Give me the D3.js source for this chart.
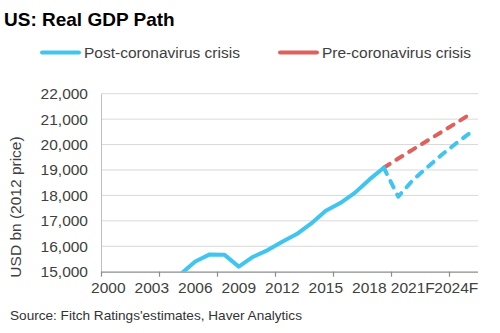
<!DOCTYPE html>
<html lang="en">
	<head>
		<meta charset="utf-8">
		<title>US real GDP path</title>
		<script type="text/javascript" src="https://cdn.jsdelivr.net/npm/d3@7"></script>
		<style>
			body{
				margin:0;
				background-color:white;
			}
			text{
				font-family:"Liberation Sans", Arial, sans-serif;
			}
		</style>
	</head>
	<body>
		<div id="chart"></div>

		<script type="text/javascript">
			// categories (one per year, forecasts marked F)
			var years = ["2000","2001","2002","2003","2004","2005","2006","2007","2008","2009",
				"2010","2011","2012","2013","2014","2015","2016","2017","2018","2019",
				"2020F","2021F","2022F","2023F","2024F","2025F"]

			// USD bn, 2012 prices
			var actual = [13130,13260,13490,13880,14410,14910,15400,15680,15670,15200,
				15590,15850,16180,16480,16900,17400,17700,18100,18620,19090]
			var postCrisis = [19090,17950,18600,19100,19600,20050,20480]   // 2019 .. 2025F
			var preCrisis = [19090,19450,19800,20150,20500,20850,21210]    // 2019 .. 2025F

			var xLabels = ["2000","2003","2006","2009","2012","2015","2018","2021F","2024F"]
			var yTicks = [15000,16000,17000,18000,19000,20000,21000,22000]

			var blue = "#3fc5ef"
			var red = "#e0605c"

			var w = 500
			var h = 333
			var pLeft = 101, pRight = 478, pTop = 93.7, pBottom = 271.7

			var svg = d3.select("#chart").append("svg")
			.attr("width",w)
			.attr("height",h)

			var xScale = d3.scaleBand()
			.domain(years)
			.range([pLeft,pRight])

			var yScale = d3.scaleLinear()
			.domain([15000,22000])
			.range([pBottom,pTop])

			function cx(d){ return xScale(d.year)+xScale.bandwidth()/2 }

			// title
			svg.append("text")
			.attr("x",4)
			.attr("y",26)
			.attr("font-size","19px")
			.attr("font-weight","bold")
			.attr("fill","#000")
			.text("US: Real GDP Path")

			// legend
			var legend = [{name:"Post-coronavirus crisis",color:blue,x:40},
				{name:"Pre-coronavirus crisis",color:red,x:278}]
			var lg = svg.selectAll("g.legend")
			.data(legend)
			.enter()
			.append("g")
			.attr("class","legend")
			lg.append("line")
			.attr("x1",function(d){return d.x+2})
			.attr("x2",function(d){return d.x+39})
			.attr("y1",52.5)
			.attr("y2",52.5)
			.attr("stroke",function(d){return d.color})
			.attr("stroke-width",4)
			.attr("stroke-linecap","round")
			lg.append("text")
			.attr("x",function(d){return d.x+44})
			.attr("y",58)
			.attr("font-size","15.5px")
			.attr("fill","#404040")
			.text(function(d){return d.name})

			// gridlines
			svg.append("g")
			.selectAll("line")
			.data(yTicks.slice(1))
			.enter()
			.append("line")
			.attr("x1",pLeft)
			.attr("x2",pRight)
			.attr("y1",function(d){return yScale(d)})
			.attr("y2",function(d){return yScale(d)})
			.attr("stroke","#d9d9d9")
			.attr("stroke-width",1)

			// y axis
			var yAxis = d3.axisLeft(yScale)
			.tickValues(yTicks)
			.tickSize(0)
			.tickPadding(13)
			.tickFormat(d3.format(","))
			var yg = svg.append("g")
			.attr("transform","translate("+pLeft+",0)")
			.call(yAxis)
			yg.select(".domain").attr("stroke","#bfbfbf")
			yg.selectAll("text")
			.attr("font-size","15.5px")
			.attr("fill","#404040")
			.style("font-family","'Liberation Sans', Arial, sans-serif")

			svg.append("text")
			.attr("transform","translate(21,207) rotate(-90)")
			.attr("text-anchor","middle")
			.attr("font-size","15.5px")
			.attr("fill","#404040")
			.text("USD bn (2012 price)")

			// x axis: labels every 3 years, tick marks every 4 categories
			var xAxis = d3.axisBottom(xScale)
			.tickValues(xLabels)
			.tickSize(0)
			.tickPadding(10)
			var xg = svg.append("g")
			.attr("transform","translate(0,"+pBottom+")")
			.call(xAxis)
			xg.select(".domain").remove()
			xg.selectAll("text")
			.attr("font-size","15.5px")
			.attr("fill","#404040")
			.style("font-family","'Liberation Sans', Arial, sans-serif")

			svg.append("line")
			.attr("x1",pLeft)
			.attr("x2",pRight)
			.attr("y1",pBottom+0.5)
			.attr("y2",pBottom+0.5)
			.attr("stroke","#8c8c8c")
			.attr("stroke-width",1.2)

			svg.append("g")
			.selectAll("line")
			.data(years.filter(function(d,i){return i%4==0}))
			.enter()
			.append("line")
			.attr("x1",function(d){return xScale(d)+0.5})
			.attr("x2",function(d){return xScale(d)+0.5})
			.attr("y1",pBottom)
			.attr("y2",pBottom+5)
			.attr("stroke","#8c8c8c")
			.attr("stroke-width",1.2)

			// lines, clipped to the plot area
			svg.append("clipPath")
			.attr("id","plot")
			.append("rect")
			.attr("x",pLeft)
			.attr("y",pTop-10)
			.attr("width",pRight-pLeft+10)
			.attr("height",pBottom-pTop+10)

			var line = d3.line()
			.x(cx)
			.y(function(d){return yScale(d.value)})

			var actualData = actual.map(function(v,i){return {year:years[i],value:v}})
			var postData = postCrisis.map(function(v,i){return {year:years[i+19],value:v}})
			var preData = preCrisis.map(function(v,i){return {year:years[i+19],value:v}})

			var plot = svg.append("g").attr("clip-path","url(#plot)")

			plot.append("path")
			.datum(preData)
			.attr("d",line)
			.attr("fill","none")
			.attr("stroke",red)
			.attr("stroke-width",4)
			.attr("stroke-dasharray","7,8")
			.attr("stroke-linecap","round")

			plot.append("path")
			.datum(postData)
			.attr("d",line)
			.attr("fill","none")
			.attr("stroke",blue)
			.attr("stroke-width",4)
			.attr("stroke-dasharray","7,8")
			.attr("stroke-linecap","round")
			.attr("stroke-linejoin","round")

			plot.append("path")
			.datum(actualData)
			.attr("d",line)
			.attr("fill","none")
			.attr("stroke",blue)
			.attr("stroke-width",4)
			.attr("stroke-linejoin","round")

			// source note
			svg.append("text")
			.attr("x",10)
			.attr("y",320)
			.attr("font-size","13.6px")
			.attr("fill","#333")
			.text("Source: Fitch Ratings'estimates, Haver Analytics")
		</script>
	</body>
</html>
